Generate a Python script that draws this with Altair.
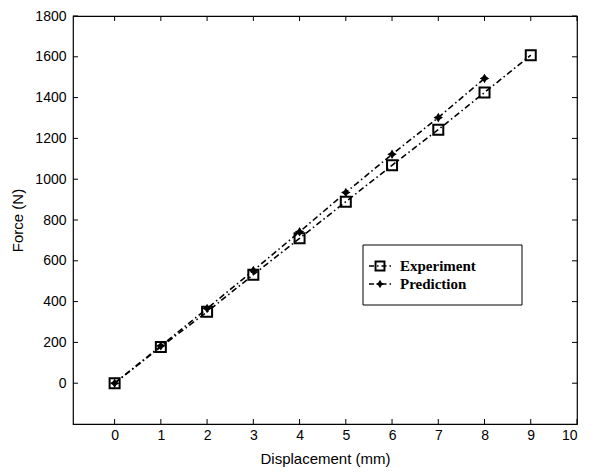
import altair as alt
import pandas as pd

# Force-displacement data
disp_exp = [0, 1, 2, 3, 4, 5, 6, 7, 8, 9]
force_exp = [0, 178, 350, 532, 710, 890, 1068, 1243, 1425, 1608]
disp_pred = [0, 1, 2, 3, 4, 5, 6, 7, 8]
force_pred = [0, 183, 366, 552, 742, 935, 1122, 1302, 1494]
series_names = ["Experiment", "Prediction"]

x_ticks = list(range(0, 11))
y_ticks = list(range(0, 1801, 200))

W, H = 504, 408
FONT = "Liberation Sans"
SERIF = "Liberation Serif"
DASH = [6, 3, 1.5, 3]
STAR = "M0,-1L0.38,-0.38L1,0L0.38,0.38L0,1L-0.38,0.38L-1,0L-0.38,-0.38Z"

exp_df = pd.DataFrame({"d": disp_exp, "f": force_exp})
pred_df = pd.DataFrame({"d": disp_pred, "f": force_pred})

xs = alt.Scale(domain=[-0.9, 10], nice=False, zero=False)
ys = alt.Scale(domain=[-200, 1800], nice=False, zero=False)

axis_text = dict(labelFont=FONT, labelFontSize=14, labelColor="black",
                 titleFont=FONT, titleFontSize=15, titleFontWeight="normal",
                 titleColor="black")
x_enc = alt.X("d:Q", scale=xs, title="Displacement (mm)",
              axis=alt.Axis(values=x_ticks, tickSize=0, domain=False, grid=False,
                            labelPadding=4, titlePadding=9, format="d", **axis_text))
y_enc = alt.Y("f:Q", scale=ys, title="Force (N)",
              axis=alt.Axis(values=y_ticks, tickSize=0, domain=False, grid=False,
                            labelPadding=7, titlePadding=9, format="d", **axis_text))

line_exp = alt.Chart(exp_df).mark_line(color="black", strokeWidth=1.6, strokeDash=DASH).encode(x=x_enc, y=y_enc)
line_pred = alt.Chart(pred_df).mark_line(color="black", strokeWidth=1.6, strokeDash=DASH).encode(x=x_enc, y=y_enc)

pts_pred = alt.Chart(pred_df).mark_point(shape=STAR, size=90, filled=True, color="black",
                                         opacity=1).encode(x=x_enc, y=y_enc)
pts_exp = alt.Chart(exp_df).mark_point(shape="square", size=100, filled=False, color="black",
                                       strokeWidth=2, opacity=1).encode(x=x_enc, y=y_enc)

# inward ticks on all four sides
xt = pd.DataFrame({"d": x_ticks})
yt = pd.DataFrame({"f": y_ticks})
tick_style = dict(color="black", strokeWidth=1)
tb = alt.Chart(xt).mark_rule(**tick_style).encode(x=x_enc, y=alt.value(H), y2=alt.value(H - 5))
tt = alt.Chart(xt).mark_rule(**tick_style).encode(x=x_enc, y=alt.value(0), y2=alt.value(5))
tl = alt.Chart(yt).mark_rule(**tick_style).encode(y=y_enc, x=alt.value(0), x2=alt.value(5))
tr = alt.Chart(yt).mark_rule(**tick_style).encode(y=y_enc, x=alt.value(W), x2=alt.value(W - 5))

# legend box
base = alt.Chart(pd.DataFrame({"k": [0]}))
box = base.mark_rect(fill="white", stroke="black", strokeWidth=1).encode(
    x=alt.value(290), x2=alt.value(449), y=alt.value(229), y2=alt.value(289))
leg_items = []
for name, yy in zip(series_names, [250, 268]):
    leg_items.append(base.mark_rule(color="black", strokeWidth=1.6, strokeDash=[5, 3, 1.5, 3]).encode(
        x=alt.value(296), x2=alt.value(320), y=alt.value(yy)))
    if name == "Experiment":
        leg_items.append(base.mark_point(shape="square", size=80, filled=False, color="black",
                                         strokeWidth=2, opacity=1).encode(x=alt.value(307), y=alt.value(yy)))
    else:
        leg_items.append(base.mark_point(shape=STAR, size=70, filled=True, color="black",
                                         opacity=1).encode(x=alt.value(307), y=alt.value(yy)))
    leg_items.append(base.mark_text(text=name, align="left", baseline="middle", font=SERIF,
                                    fontWeight="bold", fontSize=15, color="black").encode(
        x=alt.value(327), y=alt.value(yy)))

chart = alt.layer(line_exp, line_pred, pts_pred, pts_exp, tb, tt, tl, tr, box, *leg_items).properties(
    width=W, height=H,
    background="white",
    autosize=alt.AutoSizeParams(type="none"),
    padding={"left": 73, "top": 16, "right": 21, "bottom": 48},
).configure_view(stroke="black", strokeWidth=1.2)

chart.save("out.html", embed_options={"renderer": "svg", "actions": False})
